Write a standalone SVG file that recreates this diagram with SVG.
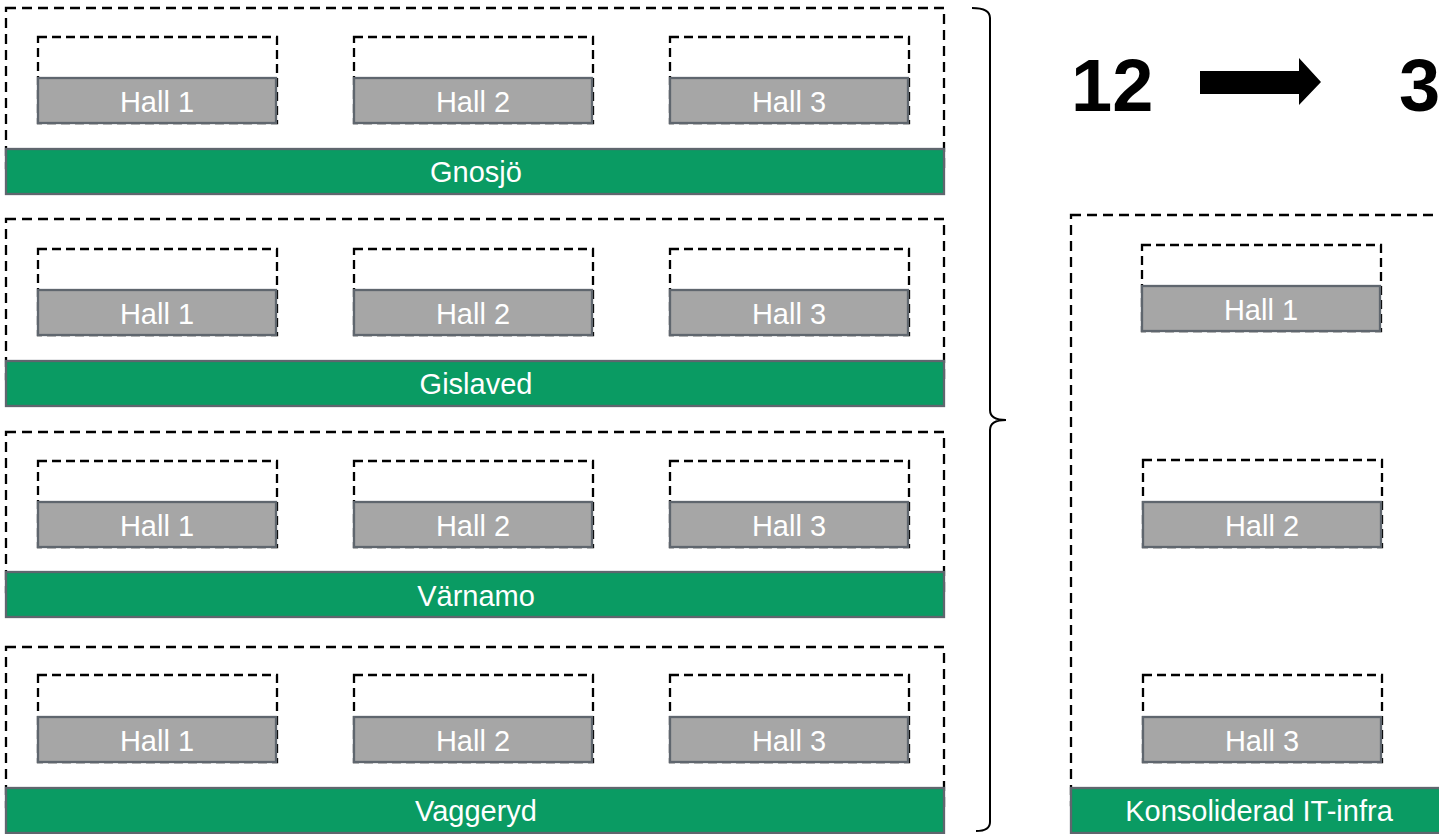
<svg xmlns="http://www.w3.org/2000/svg" width="1439" height="834" viewBox="0 0 1439 834">
<style>
.dash{fill:none;stroke:#000;stroke-width:2.3;stroke-dasharray:10 6}
.idash{fill:none;stroke:#000;stroke-width:2.3;stroke-dasharray:9 5}
.hall{fill:#a6a6a6;stroke:#5f666e;stroke-width:2.3}
.site{fill:#0a9b63;stroke:#5f666e;stroke-width:2.3}
.lbl{font-family:"Liberation Sans",Arial,sans-serif;font-size:29px;fill:#fff;text-anchor:middle}
.big{font-family:"Liberation Sans",Arial,sans-serif;font-size:74px;font-weight:bold;fill:#000}
</style>
<rect width="1439" height="834" fill="#fff"/>
<g id="gnosjo">
<rect class="dash" x="6" y="8" width="938" height="160"/>
<rect class="idash" x="38" y="37" width="239" height="86"/><rect class="hall" x="38" y="78" width="238" height="45"/><text class="lbl" x="157" y="112">Hall 1</text>
<rect class="idash" x="354" y="37" width="239" height="86"/><rect class="hall" x="354" y="78" width="238" height="45"/><text class="lbl" x="473" y="112">Hall 2</text>
<rect class="idash" x="670" y="37" width="239" height="86"/><rect class="hall" x="670" y="78" width="238" height="45"/><text class="lbl" x="789" y="112">Hall 3</text>
<rect class="site" x="6" y="149" width="938" height="45"/><text class="lbl" x="476" y="182">Gnosjö</text>
</g>
<g id="gislaved">
<rect class="dash" x="6" y="219" width="938" height="160"/>
<rect class="idash" x="38" y="249" width="239" height="86"/><rect class="hall" x="38" y="290" width="238" height="45"/><text class="lbl" x="157" y="324">Hall 1</text>
<rect class="idash" x="354" y="249" width="239" height="86"/><rect class="hall" x="354" y="290" width="238" height="45"/><text class="lbl" x="473" y="324">Hall 2</text>
<rect class="idash" x="670" y="249" width="239" height="86"/><rect class="hall" x="670" y="290" width="238" height="45"/><text class="lbl" x="789" y="324">Hall 3</text>
<rect class="site" x="6" y="361" width="938" height="45"/><text class="lbl" x="476" y="394">Gislaved</text>
</g>
<g id="varnamo">
<rect class="dash" x="6" y="432" width="938" height="160"/>
<rect class="idash" x="38" y="461" width="239" height="86"/><rect class="hall" x="38" y="502" width="238" height="45"/><text class="lbl" x="157" y="536">Hall 1</text>
<rect class="idash" x="354" y="461" width="239" height="86"/><rect class="hall" x="354" y="502" width="238" height="45"/><text class="lbl" x="473" y="536">Hall 2</text>
<rect class="idash" x="670" y="461" width="239" height="86"/><rect class="hall" x="670" y="502" width="238" height="45"/><text class="lbl" x="789" y="536">Hall 3</text>
<rect class="site" x="6" y="572" width="938" height="45"/><text class="lbl" x="476" y="606">Värnamo</text>
</g>
<g id="vaggeryd">
<rect class="dash" x="6" y="647" width="938" height="160"/>
<rect class="idash" x="38" y="675" width="239" height="87"/><rect class="hall" x="38" y="717" width="238" height="45"/><text class="lbl" x="157" y="751">Hall 1</text>
<rect class="idash" x="354" y="675" width="239" height="87"/><rect class="hall" x="354" y="717" width="238" height="45"/><text class="lbl" x="473" y="751">Hall 2</text>
<rect class="idash" x="670" y="675" width="239" height="87"/><rect class="hall" x="670" y="717" width="238" height="45"/><text class="lbl" x="789" y="751">Hall 3</text>
<rect class="site" x="6" y="788" width="938" height="45"/><text class="lbl" x="476" y="821">Vaggeryd</text>
</g>
<g id="konsoliderad">
<rect class="dash" x="1071" y="215" width="420" height="590"/>
<rect class="idash" x="1142" y="245" width="239" height="86"/><rect class="hall" x="1142" y="286" width="238" height="45"/><text class="lbl" x="1261" y="320">Hall 1</text>
<rect class="idash" x="1143" y="460" width="239" height="87"/><rect class="hall" x="1143" y="502" width="238" height="45"/><text class="lbl" x="1262" y="536">Hall 2</text>
<rect class="idash" x="1143" y="675" width="239" height="87"/><rect class="hall" x="1143" y="717" width="238" height="45"/><text class="lbl" x="1262" y="751">Hall 3</text>
<rect class="site" x="1071" y="788" width="400" height="45"/><text class="lbl" x="1259" y="821">Konsoliderad IT-infra</text>
</g>
<g id="count">
<text class="big" x="1071" y="111">12</text>
<polygon points="1200,71 1299,71 1299,58 1321,82 1299,105 1299,94 1200,94" fill="#000"/>
<text class="big" x="1399" y="111">3</text>
</g>
<g id="connectors">
<path d="M972 8 Q990 8 990 18 L990 410 Q990 420 1006 420 Q990 420 990 430 L990 822 Q990 831 976 831" fill="none" stroke="#000" stroke-width="2"/>
</g>
</svg>
